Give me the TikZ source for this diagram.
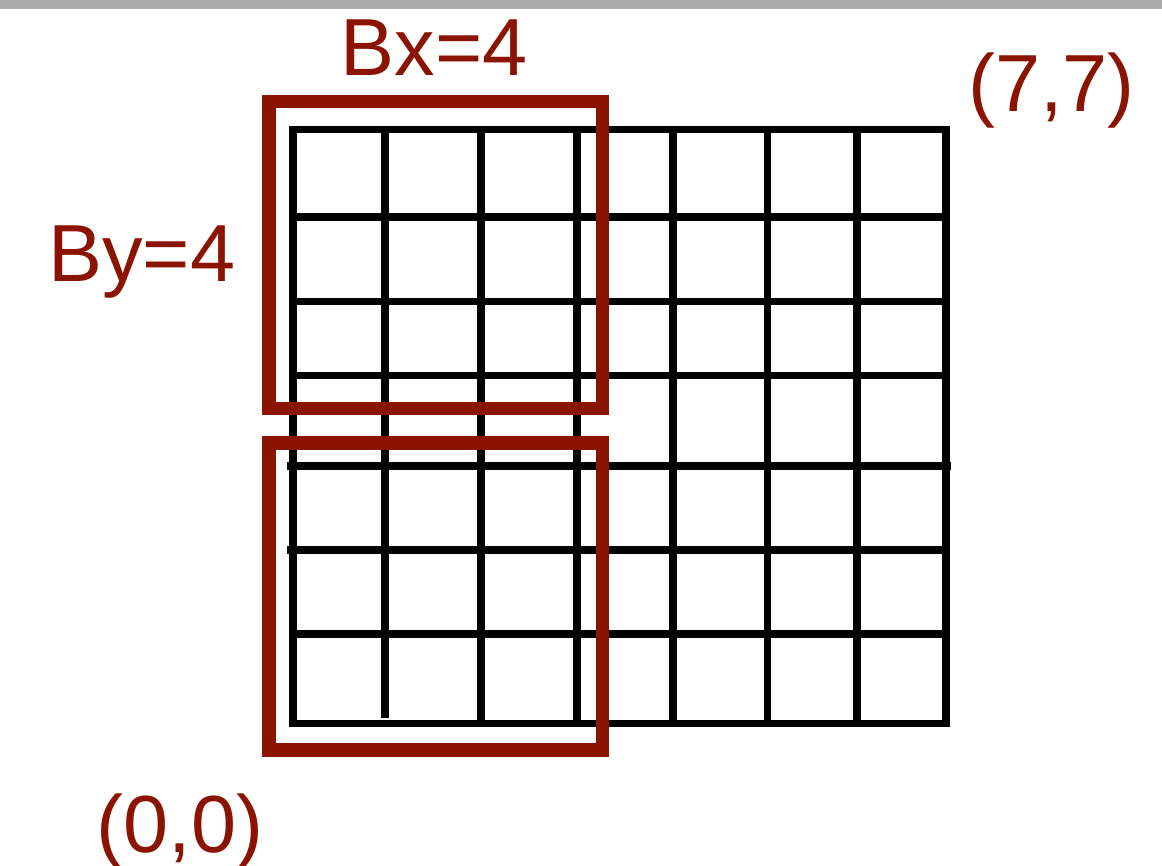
\documentclass[tikz,border=0pt]{standalone}
\usepackage{fontspec}
\setmainfont{Liberation Sans}
\definecolor{darkred}{HTML}{8A1400}
\definecolor{bargray}{HTML}{AAAAAA}
\tikzset{
  gridline/.style={draw=black, line width=7.7pt},
  blockbox/.style={draw=darkred, line width=13.3pt},
  lbl/.style={text=darkred, inner sep=0pt, anchor=base, font=\fontsize{81}{90}\selectfont}
}
\begin{document}
\begin{tikzpicture}[x=1pt,y=-1pt]
\useasboundingbox (0,0) rectangle (1162,865);
\fill[bargray] (0,0) rectangle (1162,8.7);
% grid
\draw[gridline] (293,129.5) rectangle (945.8,723.5);
\foreach \x in {481.3,577.2,673.2,767.5,857.2}
  \draw[gridline] (\x,129.5) -- (\x,723.5);
\draw[gridline] (385.3,129.5) -- (385.3,717.7);
\foreach \y in {217,301.5,375.5,634.2}
  \draw[gridline] (293,\y) -- (945.8,\y);
\draw[gridline] (287.3,466) -- (950.7,466);
\draw[gridline] (287.3,550.3) -- (945.8,550.3);
% blocks
\draw[blockbox] (269,101.7) rectangle (602.3,408.3);
\draw[blockbox] (269,443) rectangle (602.3,750);
% labels
\node[lbl] (bx) at (434,75) {Bx=4};
\node[lbl] (by) at (141.7,281) {By=4};
\node[lbl] (p77) at (1051.4,111.7) {(7,7)};
\node[lbl] (p00) at (180,852.5) {(0,0)};
\end{tikzpicture}
\end{document}
